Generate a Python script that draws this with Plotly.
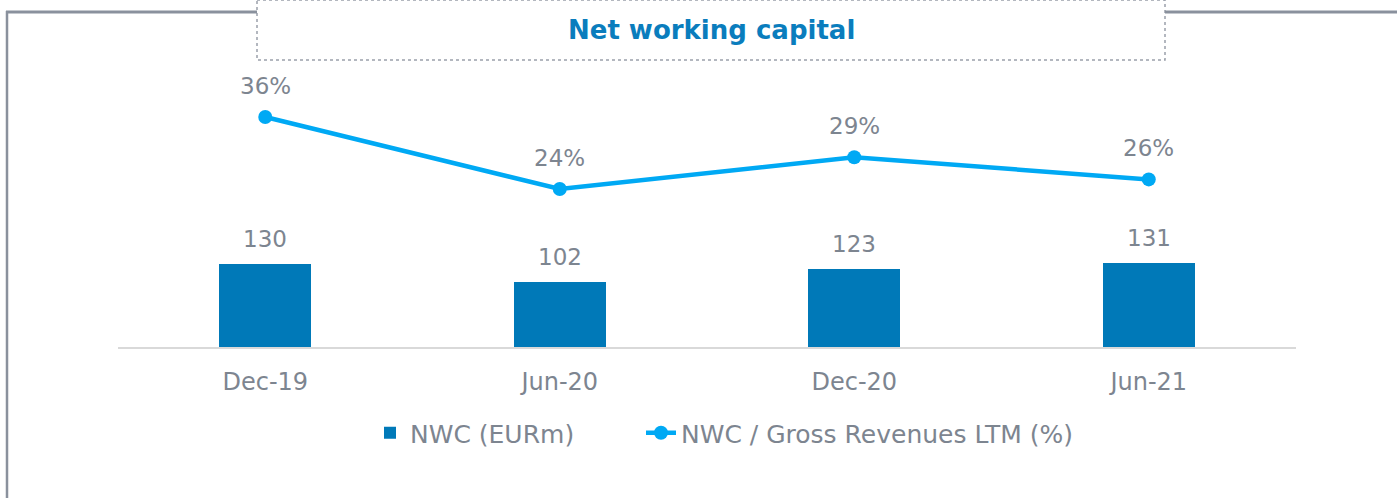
import plotly.graph_objects as go

categories = ["Dec-19", "Jun-20", "Dec-20", "Jun-21"]
nwc_values = [130, 102, 123, 131]
nwc_ratio = [0.36, 0.24, 0.293, 0.256]
ratio_labels = ["36%", "24%", "29%", "26%"]

W, H = 1397, 498
ML, MR, MT, MB = 118, 101, 70, 151
PW = W - ML - MR
PH = H - MT - MB
BOTTOM = H - MB

def px(x):
    return (x - ML) / PW

def py(y):
    return (BOTTOM - y) / PH

BAR_COLOR = "#0079B8"
LINE_COLOR = "#00A9F4"
TEXT_COLOR = "#7D8590"
FONT = "DejaVu Sans"

fig = go.Figure()
fig.add_trace(go.Bar(
    x=categories, y=nwc_values, name="NWC (EURm)",
    marker=dict(color=BAR_COLOR, line=dict(width=0)),
    width=0.313, yaxis="y", legend="legend",
))
fig.add_trace(go.Scatter(
    x=categories, y=nwc_ratio, name="NWC / Gross Revenues LTM (%)",
    mode="lines+markers",
    line=dict(color=LINE_COLOR, width=4.5),
    marker=dict(color=LINE_COLOR, size=14),
    yaxis="y2", legend="legend2",
))

annotations = []
for c, v in zip(categories, nwc_values):
    annotations.append(dict(x=c, y=v, xref="x", yref="y", text=str(v),
                            showarrow=False, yanchor="middle", yshift=25,
                            font=dict(family=FONT, size=23, color=TEXT_COLOR)))
for c, v, t in zip(categories, nwc_ratio, ratio_labels):
    annotations.append(dict(x=c, y=v, xref="x", yref="y2", text=t,
                            showarrow=False, yanchor="middle", yshift=31,
                            font=dict(family=FONT, size=23, color=TEXT_COLOR)))
annotations.append(dict(x=px(711), y=py(30), xref="paper", yref="paper",
                        text="<b>Net working capital</b>", showarrow=False,
                        xanchor="center", yanchor="middle",
                        font=dict(family=FONT, size=26, color="#0A7DBD")))

BORDER = "#8A919D"
shapes = [
    dict(type="line", xref="paper", yref="paper", x0=px(7), x1=px(7), y0=py(11), y1=py(500),
         line=dict(color=BORDER, width=2.5)),
    dict(type="line", xref="paper", yref="paper", x0=px(6), x1=px(257), y0=py(12), y1=py(12),
         line=dict(color=BORDER, width=3)),
    dict(type="line", xref="paper", yref="paper", x0=px(1165), x1=px(1400), y0=py(12), y1=py(12),
         line=dict(color=BORDER, width=3)),
    dict(type="rect", xref="paper", yref="paper", x0=px(257), x1=px(1165), y0=py(0), y1=py(60),
         line=dict(color="#9AA0AA", width=1.5, dash="dot"), fillcolor="white", layer="below"),
]

ymax = PH / 0.638
y2_top = 0.36 + (117 - MT) / 600
y2_bot = 0.36 - (BOTTOM - 117) / 600

legend_common = dict(orientation="h", xanchor="left", y=py(433), yanchor="middle",
                     font=dict(family=FONT, size=25, color=TEXT_COLOR),
                     bgcolor="rgba(0,0,0,0)")

fig.update_layout(
    width=W, height=H,
    margin=dict(l=ML, r=MR, t=MT, b=MB, autoexpand=False),
    paper_bgcolor="white", plot_bgcolor="white",
    font=dict(family=FONT, size=23, color=TEXT_COLOR),
    showlegend=True,
    legend=dict(x=px(370), **legend_common),
    legend2=dict(x=px(641), **legend_common),
    xaxis=dict(type="category", range=[-0.5, 3.5], showgrid=False, zeroline=False,
               showline=True, linecolor="#D9D9D9", linewidth=2, ticks="",
               ticklabelstandoff=12,
               tickfont=dict(family=FONT, size=24, color=TEXT_COLOR)),
    yaxis=dict(range=[0, ymax], visible=False, showgrid=False, zeroline=False),
    yaxis2=dict(range=[y2_bot, y2_top], overlaying="y", visible=False, showgrid=False,
                zeroline=False),
    annotations=annotations,
    shapes=shapes,
    bargap=0,
)

fig.write_html("out.html", config={"displayModeBar": False},
               post_script="document.body.style.margin='0';")
